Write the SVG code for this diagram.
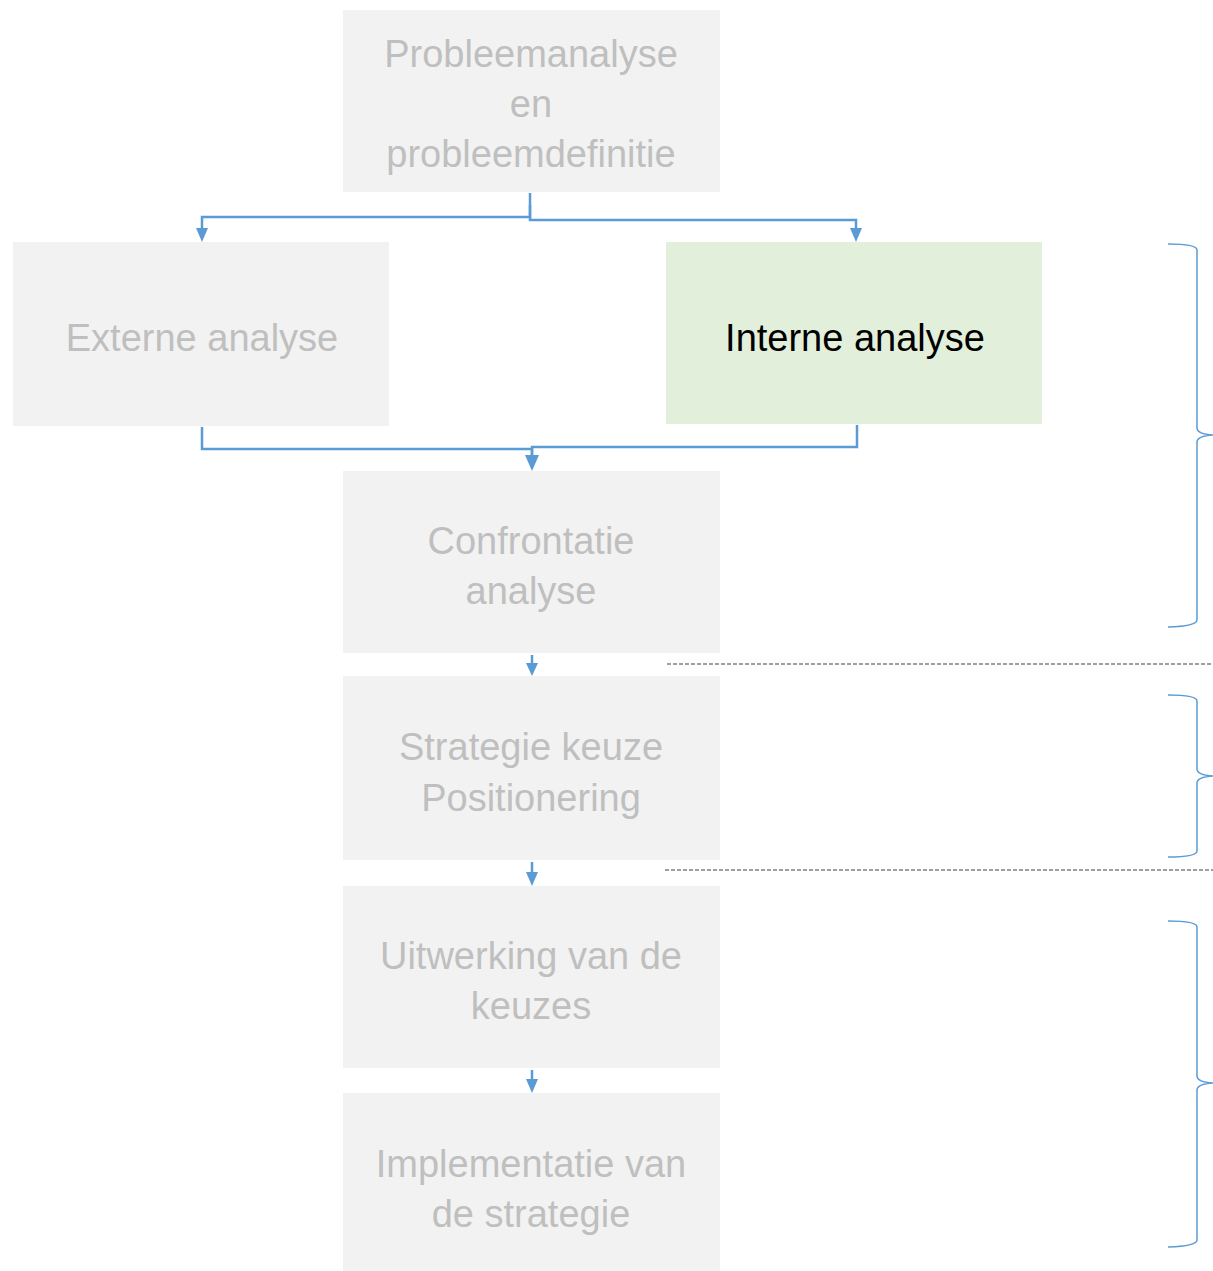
<svg xmlns="http://www.w3.org/2000/svg" width="1213" height="1271" viewBox="0 0 1213 1271">
<style>
.box{fill:#f2f2f2}
.hl{fill:#e2efda}
.t{font-family:"Liberation Sans",Arial,sans-serif;font-size:38px;fill:#bfbfbf;text-anchor:middle}
.tk{fill:#000}
.c{fill:none;stroke:#5b9bd5;stroke-width:2.5}
.ah{fill:#5b9bd5}
.d{fill:none;stroke:#808080;stroke-width:1.5;stroke-dasharray:4 2}
.b{fill:none;stroke:#5b9bd5;stroke-width:1.5}
</style>
<g id="n1"><rect class="box" x="343" y="10" width="377" height="182"/>
<text class="t" x="531" y="67">Probleemanalyse</text><text class="t" x="531" y="117">en</text><text class="t" x="531" y="167">probleemdefinitie</text></g>
<g id="n2"><rect class="box" x="13" y="242" width="376" height="184"/>
<text class="t" x="202" y="351">Externe analyse</text></g>
<g id="n3"><rect class="hl" x="666" y="242" width="376" height="182"/>
<text class="t tk" x="855" y="351">Interne analyse</text></g>
<g id="n4"><rect class="box" x="343" y="471" width="377" height="182"/>
<text class="t" x="531" y="554">Confrontatie</text><text class="t" x="531" y="604">analyse</text></g>
<g id="n5"><rect class="box" x="343" y="676" width="377" height="184"/>
<text class="t" x="531" y="760">Strategie keuze</text><text class="t" x="531" y="811">Positionering</text></g>
<g id="n6"><rect class="box" x="343" y="886" width="377" height="182"/>
<text class="t" x="531" y="969">Uitwerking van de</text><text class="t" x="531" y="1019">keuzes</text></g>
<g id="n7"><rect class="box" x="343" y="1093" width="377" height="178"/>
<text class="t" x="531" y="1177">Implementatie van</text><text class="t" x="531" y="1227">de strategie</text></g>
<g id="connectors">
<path class="c" d="M530,193 V217 H202 V230"/>
<polygon class="ah" points="196,228 208,228 202,242"/>
<path class="c" d="M530,205 V220 H856 V230"/>
<polygon class="ah" points="850,228 862,228 856,242"/>
<path class="c" d="M202,427 V449 H532 V458"/>
<path class="c" d="M857,425 V447 H532 V458"/>
<polygon class="ah" points="525,455 539,455 532,471"/>
<path class="c" d="M532,655 V665"/>
<polygon class="ah" points="526,663 538,663 532,676"/>
<path class="c" d="M532,862 V873"/>
<polygon class="ah" points="526,872 538,872 532,886"/>
<path class="c" d="M532,1070 V1080"/>
<polygon class="ah" points="526,1079 538,1079 532,1093"/>
</g>
<g id="dividers">
<line class="d" x1="667" y1="664" x2="1213" y2="664"/>
<line class="d" x1="665" y1="870" x2="1213" y2="870"/>
</g>
<g id="braces">
<path class="b" d="M1168,244 Q1197,244 1197,250 V428 Q1197,434 1213,435 Q1197,436 1197,442 V620 Q1197,626 1168,627"/>
<path class="b" d="M1168,695 Q1197,695 1197,701 V769 Q1197,775 1213,776 Q1197,777 1197,783 V851 Q1197,857 1168,857"/>
<path class="b" d="M1168,921 Q1197,921 1197,927 V1076 Q1197,1082 1213,1083 Q1197,1084 1197,1090 V1240 Q1197,1246 1168,1247"/>
</g>
</svg>
